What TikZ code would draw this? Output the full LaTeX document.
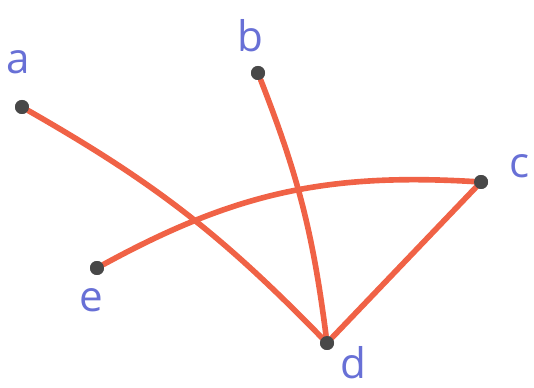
\documentclass[tikz,border=0pt]{standalone}
\usepackage{fontspec}
\setmainfont{Open Sans}
\usepackage{tikz}

\definecolor{edgered}{RGB}{240,98,70}
\definecolor{labelblue}{RGB}{104,112,214}
\definecolor{dotgray}{RGB}{72,72,72}

\tikzset{
  vert/.style={circle,fill=dotgray,inner sep=0pt,minimum size=0.28cm},
  vlabel/.style={text=labelblue,inner sep=1pt,font=\fontsize{24}{26}\selectfont},
  edge/.style={draw=edgered,line width=3.2pt,line cap=round}
}

\begin{document}
\begin{tikzpicture}[x=0.02cm,y=-0.02cm]
  % frame: 534 x 388 px
  \useasboundingbox (0,0) rectangle (534,388);
  % vertices
  \node[vert] (a) at (22,107) {};
  \node[vert] (b) at (258,73) {};
  \node[vert] (c) at (481,182) {};
  \node[vert] (d) at (327,343) {};
  \node[vert] (e) at (97,268) {};
  % labels
  \node[vlabel] (la) at (18,62) {a};
  \node[vlabel] (lb) at (250,36) {b};
  \node[vlabel] (lc) at (520,166) {c};
  \node[vlabel] (ld) at (353,363) {d};
  \node[vlabel] (le) at (91,300) {e};
  % edges
  \draw[edge] (a) to[bend left=8] (d);
  \draw[edge] (b) to[bend left=7] (d);
  \draw[edge] (e) to[bend left=16] (c);
  \draw[edge] (c) -- (d);
  % redraw dots over the lines
  \foreach \v in {a,b,c,d,e}
    \fill[dotgray] (\v) circle (0.14cm);
\end{tikzpicture}
\end{document}
